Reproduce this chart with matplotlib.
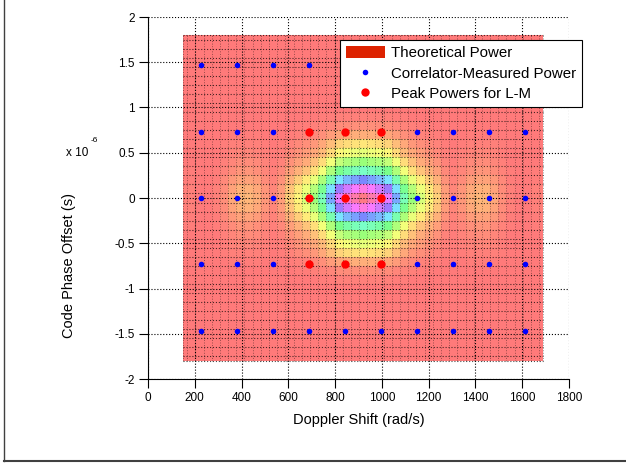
import numpy as np
import matplotlib.pyplot as plt
from matplotlib.patches import Patch
from matplotlib.lines import Line2D
from matplotlib.ticker import FuncFormatter

plt.rcParams['font.family'] = ['Liberation Sans', 'DejaVu Sans']

# theoretical power surface (normalised to peak = 1)
doppler_axis = np.arange(150, 1691, 35)          # rad/s, surface columns
doppler_profile = [0.01, 0.01, 0.00, 0.00, 0.01, 0.03, 0.06, 0.08, 0.08, 0.07, 0.04,
                   0.02, 0.05, 0.11, 0.16, 0.22, 0.30, 0.42, 0.62, 0.82, 0.90, 0.95,
                   1.00,
                   0.95, 0.90, 0.82, 0.62, 0.42, 0.30, 0.22, 0.16, 0.11, 0.05, 0.02,
                   0.04, 0.07, 0.08, 0.08, 0.06, 0.03, 0.01, 0.00, 0.00, 0.01, 0.01]
code_axis = np.round(np.arange(-1.8, 1.81, 0.1), 2) * 1e-6   # s, surface rows
code_profile = [0.00] * 9 + [0.01, 0.03, 0.07, 0.14, 0.20, 0.30, 0.44, 0.66, 0.88,
                             1.00,
                             0.88, 0.66, 0.44, 0.30, 0.20, 0.14, 0.07, 0.03, 0.01] + [0.00] * 9

# correlator sample grid
meas_doppler = [227, 381, 535, 689, 843, 997, 1151, 1305, 1459, 1613]
meas_code = [1.465e-6, 0.733e-6, 0.0, -0.733e-6, -1.465e-6]
# points used for L-M
peak_doppler = [689, 843, 997]
peak_code = [0.733e-6, 0.0, -0.733e-6]

power = np.outer(code_profile, doppler_profile)


def edges(c):
    c = np.asarray(c, dtype=float)
    return np.concatenate([[c[0]], (c[1:] + c[:-1]) / 2, [c[-1]]])


W, H = 626, 465
fig = plt.figure(figsize=(W / 100, H / 100), dpi=100)
ax = fig.add_axes([148 / W, 1 - 379 / H, 421 / W, 362 / H])

xe = edges(doppler_axis)
ye = edges(code_axis)
ax.pcolormesh(xe, ye, power, cmap='hsv', vmin=0, vmax=1, alpha=0.52,
              shading='flat', antialiased=False, zorder=1)
# mesh edges
ax.hlines(ye, xe[0], xe[-1], colors='k', linestyles=':', linewidth=0.8, alpha=0.7, zorder=2)
ax.vlines(xe, ye[0], ye[-1], colors='k', linestyles=':', linewidth=0.7, alpha=0.4, zorder=2)

mx, my = np.meshgrid(meas_doppler, meas_code)
ax.plot(mx.ravel(), my.ravel(), 'o', color='#0000ff', markersize=4, markeredgewidth=0, zorder=4)
px, py = np.meshgrid(peak_doppler, peak_code)
ax.plot(px.ravel(), py.ravel(), 'o', color='#ff0000', markersize=6, markeredgewidth=0, zorder=5)

ax.set_xlim(0, 1800)
ax.set_ylim(-2e-6, 2e-6)
ax.set_xticks(np.arange(0, 1801, 200))
ax.set_yticks(np.arange(-2, 2.01, 0.5) * 1e-6)
ax.yaxis.set_major_formatter(FuncFormatter(lambda v, p: '%g' % round(v * 1e6, 2)))
ax.grid(True, linestyle=':', color='k', linewidth=0.8, zorder=3)
ax.set_axisbelow(False)
for s in ('top', 'right'):
    ax.spines[s].set_visible(False)
for s in ('left', 'bottom'):
    ax.spines[s].set_linewidth(0.8)
ax.tick_params(direction='out', length=6.5, width=0.8, labelsize=8.5, colors='k')
ax.tick_params(axis='x', pad=2.5)
ax.tick_params(axis='y', pad=3)

ax.set_xlabel('Doppler Shift (rad/s)', fontsize=10.5)
ax.xaxis.set_label_coords(0.5, -0.093)
fig.text(69 / W, 1 - 266 / H, 'Code Phase Offset (s)', rotation=90, fontsize=10.5,
         ha='center', va='center')
fig.text(66 / W, 1 - 153 / H, 'x 10', fontsize=8.5, ha='left', va='center')
fig.text(91 / W, 1 - 141 / H, '-6', fontsize=6, ha='left', va='center')

handles = [Patch(facecolor='#dd2200', edgecolor='none'),
           Line2D([], [], ls='none', marker='o', color='#0000ff', markersize=4, markeredgewidth=0),
           Line2D([], [], ls='none', marker='o', color='#ff0000', markersize=6, markeredgewidth=0)]
labels = ['Theoretical Power', 'Correlator-Measured Power', 'Peak Powers for L-M']
leg = ax.legend(handles, labels, loc='upper right', bbox_to_anchor=(582 / W, 1 - 40 / H),
                bbox_transform=fig.transFigure, fontsize=10.8, frameon=True, fancybox=False,
                edgecolor='k', framealpha=1, borderpad=0.4, labelspacing=0.38,
                handlelength=2.6, handleheight=0.9, handletextpad=0.4, borderaxespad=0)
leg.get_frame().set_linewidth(0.8)
leg.set_zorder(10)

# window frame
fig.add_artist(Line2D([3.5 / W, 3.5 / W], [1 - 461 / H, 1], transform=fig.transFigure,
                      color='#404040', linewidth=1))
fig.add_artist(Line2D([3.5 / W, 1], [1 - 461 / H, 1 - 461 / H], transform=fig.transFigure,
                      color='#404040', linewidth=1.5))

fig.savefig('out.png', dpi=100)
